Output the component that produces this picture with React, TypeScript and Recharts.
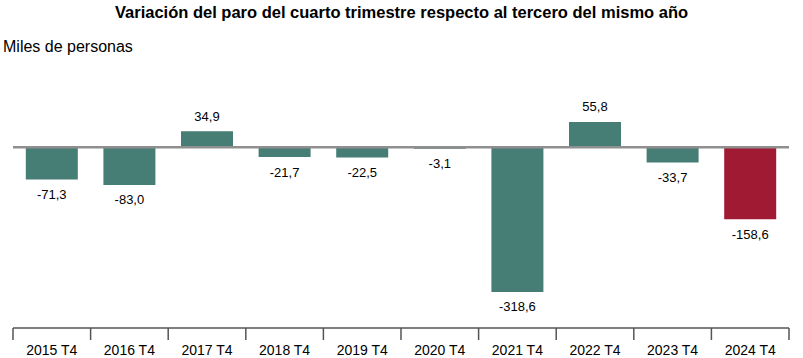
import { Bar, BarChart, Cell, LabelList, ReferenceLine, XAxis, YAxis } from 'recharts';

const categories = ['2015 T4', '2016 T4', '2017 T4', '2018 T4', '2019 T4', '2020 T4', '2021 T4', '2022 T4', '2023 T4', '2024 T4'];
const variation = [-71.3, -83.0, 34.9, -21.7, -22.5, -3.1, -318.6, 55.8, -33.7, -158.6];
const highlight = ['2024 T4'];

const W = 803;
const H = 358;
const AXIS_H = 30;
const M = { top: 80, right: 14, bottom: 0, left: 13 };
const AXIS_Y = H - AXIS_H;
const BAND = (W - M.left - M.right) / categories.length;

const TEAL = '#467d75';
const RED = '#a01a33';

const chartData = categories.map((cat, i) => ({ cat, value: variation[i] }));

const fmt = (v: number) => v.toFixed(1).replace('.', ',');

function CategoryTick(props: any) {
  const { x, payload, index } = props;
  const left = x - BAND / 2;
  return (
    <g>
      <line x1={left} y1={AXIS_Y} x2={left} y2={AXIS_Y + 12} stroke="#555" strokeWidth={1.5} />
      {index === categories.length - 1 && (
        <line x1={x + BAND / 2} y1={AXIS_Y} x2={x + BAND / 2} y2={AXIS_Y + 12} stroke="#555" strokeWidth={1.5} />
      )}
      <text x={x} y={AXIS_Y + 22} textAnchor="middle" dominantBaseline="central" fontSize={14} fill="#000">
        {payload.value}
      </text>
    </g>
  );
}

function ValueLabel(props: any) {
  const { x, y, width, height, value } = props;
  const top = Math.min(y, y + height);
  const bottom = Math.max(y, y + height);
  const ly = value < 0 ? bottom + 15 : top - 15;
  return (
    <text x={x + width / 2} y={ly} textAnchor="middle" dominantBaseline="central" fontSize={13} fill="#000">
      {fmt(value)}
    </text>
  );
}

export default function App() {
  return (
    <div style={{ position: 'absolute', left: 0, top: 0, width: W, height: H, fontFamily: '"Liberation Sans", Arial, sans-serif', background: '#fff' }}>
      <div style={{ position: 'absolute', left: 0, width: W, top: 3, textAlign: 'center', fontWeight: 'bold', fontSize: 16.5 }}>
        Variación del paro del cuarto trimestre respecto al tercero del mismo año
      </div>
      <div style={{ position: 'absolute', left: 3, top: 38, fontSize: 16 }}>Miles de personas</div>
      <BarChart width={W} height={H} data={chartData} margin={M} barCategoryGap="16.5%" style={{ position: 'absolute', left: 0, top: 0 }}>
        <XAxis
          dataKey="cat"
          axisLine={{ stroke: '#555', strokeWidth: 1.5 }}
          tickLine={false}
          tick={<CategoryTick />}
          height={AXIS_H}
          interval={0}
        />
        <YAxis hide domain={[-398, 148]} />
        <Bar dataKey="value" isAnimationActive={false}>
          {chartData.map((d) => (
            <Cell key={d.cat} fill={highlight.includes(d.cat) ? RED : TEAL} />
          ))}
          <LabelList dataKey="value" content={<ValueLabel />} />
        </Bar>
        <ReferenceLine y={0} stroke="#8f8f8f" strokeWidth={2.5} />
      </BarChart>
    </div>
  );
}
